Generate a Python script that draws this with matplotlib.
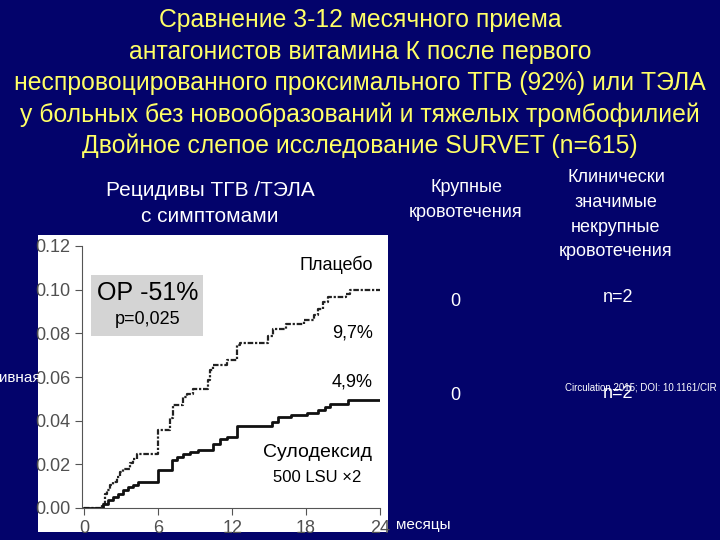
import matplotlib
matplotlib.use("Agg")
import matplotlib.pyplot as plt
from matplotlib.patches import Rectangle

plt.rcParams['font.family'] = ['Liberation Sans', 'DejaVu Sans']

# placebo curve (month of step, cumulative incidence after step)
placeboMonths = [0, 1.4, 1.68, 1.8, 2.08, 2.35, 2.62, 2.9, 3.17, 3.7, 3.98, 4.25,
                 6.0, 6.95, 7.15, 8.0, 8.3, 8.85, 10.06, 10.2, 10.4, 11.55,
                 12.35, 12.6, 14.9, 15.3, 16.4, 17.8, 18.6, 19.0, 19.4, 19.8,
                 21.2, 21.6, 24]
placeboValues = [0, 0.002, 0.0066, 0.0081, 0.0104, 0.0119, 0.0142, 0.0165, 0.018, 0.0206, 0.0226, 0.0246,
                 0.0356, 0.041, 0.047, 0.0508, 0.0524, 0.0547, 0.0585, 0.063, 0.0653, 0.068,
                 0.0745, 0.0756, 0.079, 0.0821, 0.0844, 0.086, 0.0882, 0.0913, 0.0944, 0.0966,
                 0.098, 0.0997, 0.0997]

# sulodexide curve
sulodMonths = [0, 1.54, 1.95, 2.35, 2.76, 3.17, 3.57, 3.98, 4.38, 6.0, 7.09, 7.5,
               8.04, 8.58, 9.25, 10.47, 11.0, 11.55, 12.36, 15.2, 15.75, 16.8,
               18.05, 19.0, 19.5, 19.9, 21.4, 24]
sulodValues = [0, 0.002, 0.0035, 0.005, 0.0066, 0.0084, 0.0096, 0.0107, 0.0119, 0.0173, 0.0218, 0.0234,
               0.0249, 0.0256, 0.0264, 0.0295, 0.0318, 0.0325, 0.0376, 0.0394, 0.0417, 0.0424,
               0.0435, 0.0447, 0.0463, 0.0478, 0.0493, 0.0493]

xTicks = [0, 6, 12, 18, 24]
yTicks = [0.00, 0.02, 0.04, 0.06, 0.08, 0.10, 0.12]

titleLines = ["Сравнение 3-12 месячного приема",
              "антагонистов витамина К после первого",
              "неспровоцированного проксимального ТГВ (92%) или ТЭЛА",
              "у больных без новообразований и тяжелых тромбофилией",
              "Двойное слепое исследование SURVET (n=615)"]

bg = '#03036b'
W, H = 720, 540

fig = plt.figure(figsize=(7.2, 5.4), dpi=100, facecolor=bg)


def px(x, y):
    return x / W, 1 - y / H


def ftext(x, y, s, **kw):
    fx, fy = px(x, y)
    fig.text(fx, fy, s, **kw)


# white panel behind the chart
panel = fig.add_axes([38 / W, 1 - 532 / H, 350 / W, 297 / H])
panel.set_facecolor('white')
panel.axis('off')
panel.add_patch(Rectangle((0, 0), 1, 1, transform=panel.transAxes, facecolor='white', edgecolor='none'))
panel.set_zorder(0)

ax = fig.add_axes([82 / W, 1 - 508 / H, 298 / W, 262 / H])
ax.set_zorder(2)
ax.set_facecolor('none')
ax.step(placeboMonths, placeboValues, where='post', color='#222222', lw=1.6,
        linestyle=(0, (2.5, 0.8, 1, 0.8)))
ax.step(sulodMonths, sulodValues, where='post', color='#111111', lw=2)
ax.set_xlim(-0.2, 24)
ax.set_ylim(0, 0.12)
ax.set_xticks(xTicks)
ax.set_yticks(yTicks)
ax.set_yticklabels([f"{v:.2f}" for v in yTicks])
for s in ['top', 'right']:
    ax.spines[s].set_visible(False)
for s in ['left', 'bottom']:
    ax.spines[s].set_color('#555555')
ax.tick_params(colors='#555555', labelcolor='#505050', labelsize=13, length=5)

# chart annotations
ax.add_patch(Rectangle((0.55, 0.0788), 9.1, 0.0278, facecolor='#d4d4d4', edgecolor='none'))
ax.text(5.1, 0.0985, "ОР -51%", ha='center', va='center', fontsize=18, color='black')
ax.text(5.1, 0.0862, "p=0,025", ha='center', va='center', fontsize=13, color='black')
ax.text(23.4, 0.1115, "Плацебо", ha='right', va='center', fontsize=13, color='black')
ax.text(23.4, 0.0800, "9,7%", ha='right', va='center', fontsize=13, color='black')
ax.text(23.4, 0.0578, "4,9%", ha='right', va='center', fontsize=13, color='black')
ax.text(18.9, 0.0255, "Сулодексид", ha='center', va='center', fontsize=14, color='black')
ax.text(18.9, 0.0140, "500 LSU ×2", ha='center', va='center', fontsize=12, color='black')

# title
for i, line in enumerate(titleLines):
    ftext(360, 20 + i * 31.5, line, ha='center', va='center', fontsize=17.8, color='#ffff66')

ftext(210, 190, "Рецидивы ТГВ /ТЭЛА", ha='center', va='center', fontsize=15, color='white')
ftext(210, 216, "с симптомами", ha='center', va='center', fontsize=15, color='white')
ftext(466, 188, "Крупные", ha='center', va='center', fontsize=13, color='white')
ftext(466, 213, "кровотечения", ha='center', va='center', fontsize=13, color='white')
for i, line in enumerate(["Клинически", "значимые", "некрупные", "кровотечения"]):
    ftext(616, 178 + i * 24.5, line, ha='center', va='center', fontsize=13, color='white')

ftext(455, 301, "0", ha='center', va='center', fontsize=13, color='white')
ftext(455, 396, "0", ha='center', va='center', fontsize=13, color='white')
ftext(618, 298, "n=2", ha='center', va='center', fontsize=13, color='white')
ftext(618, 394, "n=2", ha='center', va='center', fontsize=13, color='white')
ftext(565, 388, "Circulation 2015; DOI: 10.1161/CIR", ha='left', va='center', fontsize=7, color='white')
ftext(396, 525, "месяцы", ha='left', va='center', fontsize=11, color='white')
ftext(41, 378, "ивная", ha='right', va='center', fontsize=11, color='white')

fig.savefig("out.png", dpi=100, facecolor=bg)
